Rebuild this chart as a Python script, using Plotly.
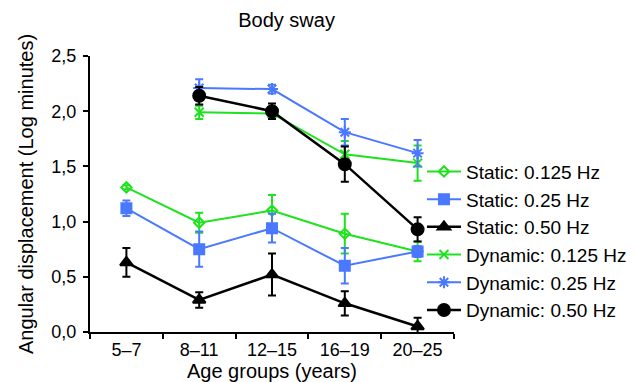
import plotly.graph_objects as go

age_groups = ["5–7", "8–11", "12–15", "16–19", "20–25"]

static_0125 = [1.31, 0.99, 1.10, 0.89, 0.73]
static_0125_err = [0.02, 0.09, 0.14, 0.18, 0.09]
static_025 = [1.12, 0.75, 0.94, 0.60, 0.73]
static_025_err = [0.07, 0.16, 0.13, 0.16, 0.05]
static_050 = [0.63, 0.29, 0.52, 0.26, 0.05]
static_050_err = [0.13, 0.07, 0.19, 0.11, 0.08]
dynamic_0125 = [None, 1.99, 1.98, 1.61, 1.53]
dynamic_0125_err = [0, 0.06, 0.04, 0.12, 0.16]
dynamic_025 = [None, 2.21, 2.20, 1.81, 1.62]
dynamic_025_err = [0, 0.08, 0.04, 0.12, 0.12]
dynamic_050 = [None, 2.14, 2.00, 1.52, 0.93]
dynamic_050_err = [0, 0.08, 0.07, 0.16, 0.11]

GREEN = "#1ee21e"
BLUE = "#4a78ff"
BLACK = "#000000"

series = [
    ("Static: 0.125 Hz", static_0125, static_0125_err, GREEN, "diamond-open", 8, 2),
    ("Static: 0.25 Hz", static_025, static_025_err, BLUE, "square", 10, 2),
    ("Static: 0.50 Hz", static_050, static_050_err, BLACK, "triangle-up", 11, 2.5),
    ("Dynamic: 0.125 Hz", dynamic_0125, dynamic_0125_err, GREEN, "x-thin-open", 9, 2),
    ("Dynamic: 0.25 Hz", dynamic_025, dynamic_025_err, BLUE, "asterisk-open", 10, 2),
    ("Dynamic: 0.50 Hz", dynamic_050, dynamic_050_err, BLACK, "circle", 12, 2.5),
]

fig = go.Figure()
for name, vals, errs, color, sym, size, lw in series:
    fig.add_trace(go.Scatter(
        x=age_groups, y=vals, name=name, mode="lines+markers",
        line=dict(color=color, width=lw),
        marker=dict(symbol=sym, size=size, color=color,
                    line=dict(color=color, width=2)),
        error_y=dict(type="data", array=errs, visible=True,
                     color=color, thickness=2, width=4),
        connectgaps=False,
    ))

font_family = "Liberation Sans, Arial, Helvetica, sans-serif"

fig.update_layout(
    width=636, height=382,
    margin=dict(l=82, r=188, t=48, b=58),
    paper_bgcolor="white", plot_bgcolor="white",
    separators=",.",
    font=dict(family=font_family, size=18, color="black"),
    title=dict(text="Body sway", x=0.54, xref="paper", xanchor="center",
               y=1 - 12 / 382, yanchor="middle", yref="container",
               font=dict(size=20, color="black")),
    showlegend=True,
    legend=dict(x=0.912, xanchor="left", y=0.65, yanchor="top",
                bgcolor="rgba(0,0,0,0)", font=dict(size=19),
                tracegroupgap=0, itemwidth=34),
    xaxis=dict(
        type="category", range=[-0.5, 4.5], tickson="boundaries",
        showline=True, linecolor="black", linewidth=2,
        ticks="outside", ticklen=5, tickwidth=2, tickcolor="black",
        showgrid=False, zeroline=False,
        title=dict(text="Age groups (years)", font=dict(size=20), standoff=4),
        tickfont=dict(size=18),
    ),
    yaxis=dict(
        range=[0, 2.5], tickvals=[0, 0.5, 1.0, 1.5, 2.0, 2.5], tickformat=".1f",
        showline=True, linecolor="black", linewidth=2,
        ticks="outside", ticklen=5, tickwidth=2, tickcolor="black",
        ticklabelstandoff=3,
        showgrid=False, zeroline=False,
        title=dict(text="Angular displacement (Log minutes)", font=dict(size=20), standoff=12),
        tickfont=dict(size=18),
    ),
)

fig.write_html("out.html")
